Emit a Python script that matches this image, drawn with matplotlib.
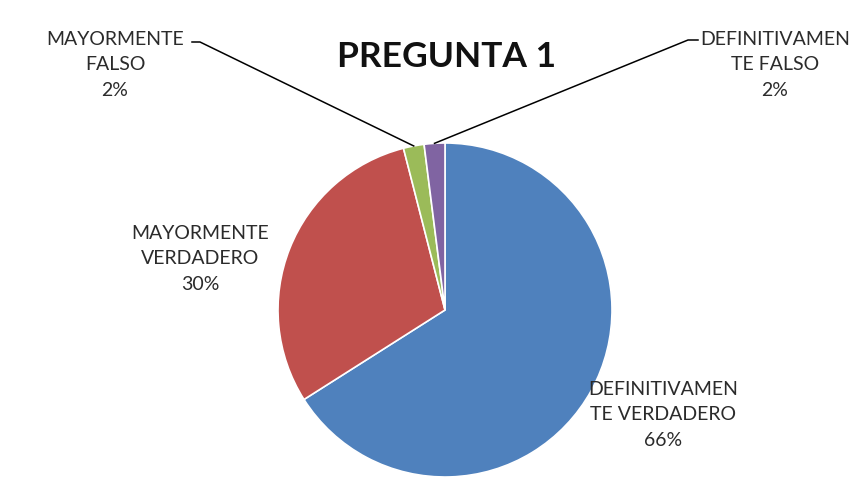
import numpy as np
import matplotlib
matplotlib.use("Agg")
import matplotlib.pyplot as plt

# Datos de la gráfica
categorias = ["DEFINITIVAMEN\nTE VERDADERO", "MAYORMENTE\nVERDADERO", "MAYORMENTE\nFALSO", "DEFINITIVAMEN\nTE FALSO"]
porcentajes = [66, 30, 2, 2]
colores = ["#4F81BD", "#C0504D", "#9BBB59", "#8064A2"]

plt.rcParams['font.family'] = ['Lato', 'DejaVu Sans']

fig = plt.figure(figsize=(8.58, 4.8), dpi=100)
ax = fig.add_axes([0, 0, 1, 1])

centro = (445, 170)
radio = 167
cunas, _ = ax.pie(porcentajes, colors=colores, startangle=90, counterclock=False,
                  center=centro, radius=radio, frame=True,
                  wedgeprops=dict(edgecolor='white', linewidth=1.2))
ax.set_xlim(0, 858)
ax.set_ylim(0, 480)
ax.set_aspect('equal')
ax.axis('off')

# Posiciones de las etiquetas (x, y) en pixeles y si llevan linea guia
posiciones = [(663, 65), (200, 221), (115, 415), (775, 415)]
guia = [None, None, (200, 438), (688, 440)]

for i in range(len(porcentajes)):
    texto = categorias[i] + "\n" + str(porcentajes[i]) + "%"
    ax.text(posiciones[i][0], posiciones[i][1], texto, ha='center', va='center',
            fontsize=14, color='#2b2b2b', linespacing=1.6)
    if guia[i] is not None:
        w = cunas[i]
        ang = np.radians((w.theta1 + w.theta2) / 2)
        px = centro[0] + radio * np.cos(ang)
        py = centro[1] + radio * np.sin(ang)
        gx, gy = guia[i]
        if gx < centro[0]:
            ax.plot([gx - 8, gx, px], [gy, gy, py], color='black', linewidth=1.1)
        else:
            ax.plot([gx + 10, gx, px], [gy, gy, py], color='black', linewidth=1.1)

ax.text(447, 423, "PREGUNTA 1", ha='center', va='center', fontsize=25.5,
        fontweight='bold', color='#111111')

fig.savefig("out.png", dpi=100, facecolor='white')
